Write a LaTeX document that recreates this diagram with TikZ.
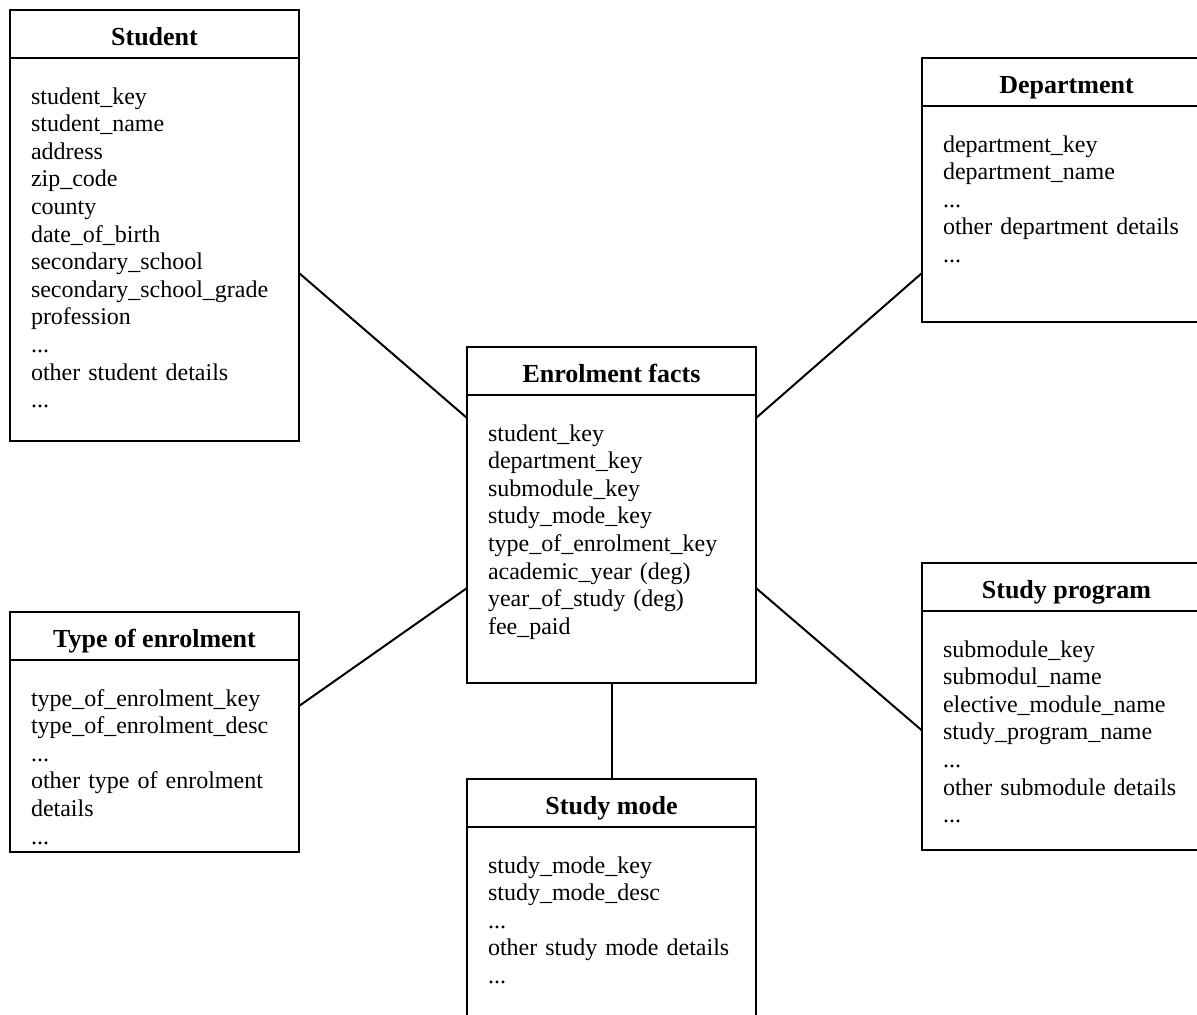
\documentclass[tikz,border=0pt]{standalone}
\usepackage{fontspec}
\setmainfont{Liberation Serif}
\usepackage{tikz}

\begin{document}
\begin{tikzpicture}[x=0.5pt, y=-0.5pt,
        head/.style={draw, line width=1pt, outer sep=0pt, minimum width=144.5pt, minimum height=24pt, inner sep=0pt, text height=11pt, text depth=0pt, font=\bfseries\fontsize{13}{15}\selectfont},
        body/.style={draw, line width=1pt, outer sep=0pt, anchor=north, align=left, text width=123.5pt, inner xsep=10.5pt, inner ysep=0pt, text height=23pt, font=\fontsize{12}{13.8}\selectfont},
        link/.style={black, line width=1pt}]

                \clip (0,0) rectangle (1197,1014);

                % dimension tables and fact table
                \node[head] (student) at (154.5,34) {Student};
                \node[body, text depth=168.5pt] (studentbody) at (student.south) {student\_key\\student\_name\\address\\zip\_code\\county\\date\_of\_birth\\secondary\_school\\secondary\_school\_grade\\profession\\...\\other student details\\...};

                \node[head] (dept) at (1066.5,82) {Department};
                \node[body, text depth=85pt] (deptbody) at (dept.south) {department\_key\\department\_name\\...\\other department details\\...};

                \node[head] (enrol) at (611.5,371) {Enrolment facts};
                \node[body, text depth=121pt] (enrolbody) at (enrol.south) {student\_key\\department\_key\\submodule\_key\\study\_mode\_key\\type\_of\_enrolment\_key\\academic\_year (deg)\\year\_of\_study (deg)\\fee\_paid};

                \node[head] (type) at (154.5,636) {Type of enrolment};
                \node[body, text depth=73pt] (typebody) at (type.south) {type\_of\_enrolment\_key\\type\_of\_enrolment\_desc\\...\\\makebox[123.5pt][s]{other type of enrolment}\\details\\...};

                \node[head] (program) at (1066.5,587) {Study program};
                \node[body, text depth=96.5pt] (programbody) at (program.south) {submodule\_key\\submodul\_name\\elective\_module\_name\\study\_program\_name\\...\\other submodule details\\...};

                \node[head] (mode) at (611.5,803) {Study mode};
                \node[body, text depth=79pt] (modebody) at (mode.south) {study\_mode\_key\\study\_mode\_desc\\...\\other study mode details\\...};

                % connections
                \draw[link] ([yshift=-11.75pt]studentbody.east) -- ([yshift=60.5pt]enrolbody.west);
                \draw[link] ([yshift=-29.5pt]deptbody.west) -- ([yshift=60.5pt]enrolbody.east);
                \draw[link] ([yshift=25pt]typebody.east) -- ([yshift=-24.5pt]enrolbody.west);
                \draw[link] (programbody.west) -- ([yshift=-24.5pt]enrolbody.east);
                \draw[link] (enrolbody.south) -- (mode.north);

\end{tikzpicture}
\end{document}
